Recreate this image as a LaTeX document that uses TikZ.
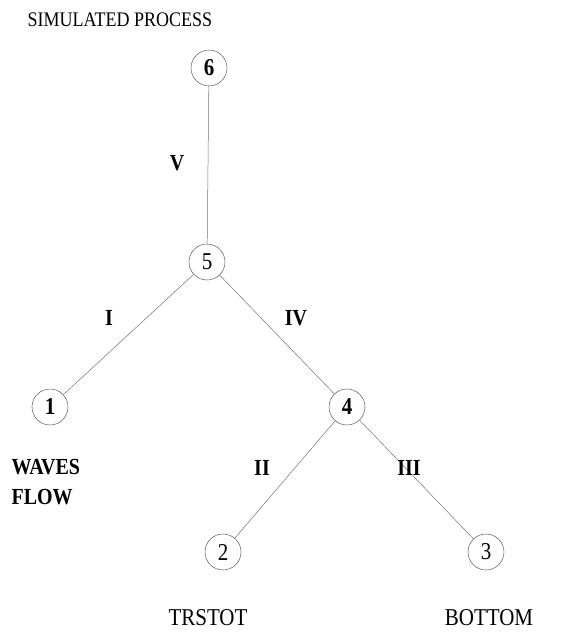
\documentclass[tikz,border=0pt]{standalone}
\usepackage{fontspec}
\setmainfont{Liberation Serif}
\newcommand{\tallt}[1]{\scalebox{1}[1.15]{#1}}
\begin{document}
\begin{tikzpicture}[x=1pt,y=-1pt,
  vert/.style={circle,draw=black!65,line width=0.5pt,minimum size=36pt,inner sep=0pt,font=\fontsize{21}{22}\selectfont},
  edge/.style={draw=black!55,line width=0.5pt},
  elab/.style={font=\fontsize{20}{22}\selectfont\bfseries},
  txt/.style={font=\fontsize{18}{20}\selectfont},
  btxt/.style={font=\fontsize{20}{22}\selectfont\bfseries,anchor=west},
  ltxt/.style={font=\fontsize{21}{22}\selectfont}]
\useasboundingbox (0,0) rectangle (561,634);
\node[txt] (title) at (120,20) {\tallt{SIMULATED PROCESS}};
\node[vert] (n6) at (209,68) {\tallt{\textbf{6}}};
\node[vert] (n5) at (207,262) {\tallt{5}};
\node[vert] (n1) at (50,407) {\tallt{\textbf{1}}};
\node[vert] (n4) at (347,407) {\tallt{\textbf{4}}};
\node[vert] (n2) at (223,552) {\tallt{2}};
\node[vert] (n3) at (486,552) {\tallt{3}};
\draw[edge] (n6) -- (n5);
\draw[edge] (n5) -- (n1);
\draw[edge] (n5) -- (n4);
\draw[edge] (n4) -- (n2);
\draw[edge] (n4) -- (n3);
\node[elab] (lV) at (177,163) {\tallt{V}};
\node[elab] (lI) at (109,318) {\tallt{I}};
\node[elab] (lIV) at (296,318) {\tallt{IV}};
\node[elab] (lII) at (262,468) {\tallt{II}};
\node[elab] (lIII) at (409,468) {\tallt{III}};
\node[btxt] (waves) at (8,467) {\tallt{WAVES}};
\node[btxt] (flow) at (8,497) {\tallt{FLOW}};
\node[ltxt] (trstot) at (208,618) {\tallt{TRSTOT}};
\node[ltxt] (bottom) at (489,618) {\tallt{BOTTOM}};
\end{tikzpicture}
\end{document}
